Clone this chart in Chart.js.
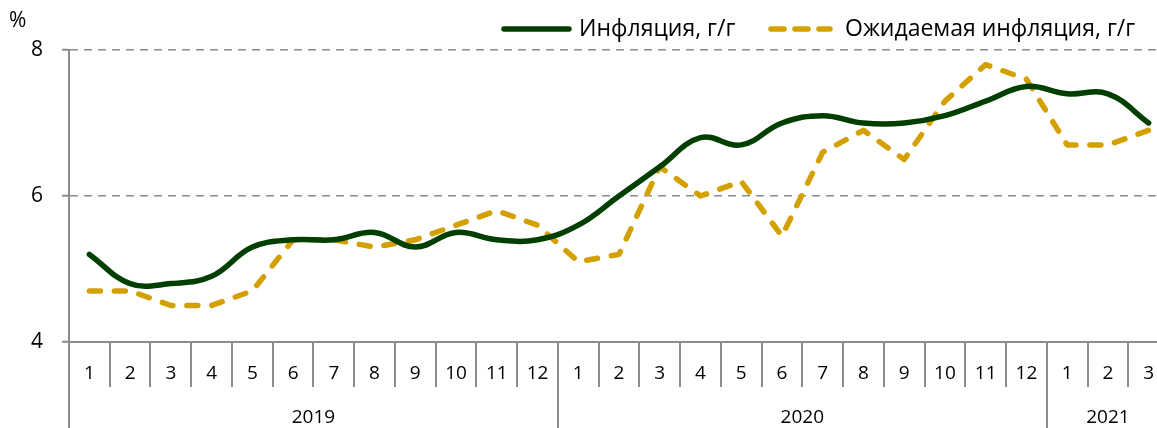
<!DOCTYPE html>
<html><head><meta charset="utf-8">
<script src="https://cdn.jsdelivr.net/npm/chart.js@4"></script>
<style>
html,body{margin:0;padding:0;overflow:hidden;background:#fff;width:1157px;height:428px}
#wrap{width:1157px;height:428px;overflow:hidden;position:relative}
canvas{display:block}
</style></head>
<body><div id="wrap"><canvas id="c" width="1169" height="428" style="width:1169px;height:428px"></canvas></div>
<script>
const months = ['1','2','3','4','5','6','7','8','9','10','11','12',
                '1','2','3','4','5','6','7','8','9','10','11','12',
                '1','2','3'];
const years = ['2019','2020','2021'];
const yearSpans = [12, 12, 3];
const inflation = [5.2, 4.8, 4.8, 4.9, 5.3, 5.4, 5.4, 5.5, 5.3, 5.5, 5.4, 5.4,
                   5.6, 6.0, 6.4, 6.8, 6.7, 7.0, 7.1, 7.0, 7.0, 7.1, 7.3, 7.5,
                   7.4, 7.4, 7.0];
const expected = [4.7, 4.7, 4.5, 4.5, 4.7, 5.4, 5.4, 5.3, 5.4, 5.6, 5.8, 5.6,
                  5.1, 5.2, 6.4, 6.0, 6.2, 5.45, 6.6, 6.9, 6.5, 7.3, 7.8, 7.6,
                  6.7, 6.7, 6.9];
const seriesNames = ['Инфляция, г/г', 'Ожидаемая инфляция, г/г'];
const unitLabel = '%';
const yMin = 4, yMax = 8, yStep = 2;

const GREEN = '#003f00';
const GOLD = '#d4a000';
const GRAY = '#8c8c8c';
const FONT = '"Open Sans", "DejaVu Sans", sans-serif';

const overlay = {
  id: 'overlay',
  afterDraw(chart) {
    const {ctx, chartArea} = chart;
    const x = chart.scales.x;
    const half = (x.getPixelForValue(1) - x.getPixelForValue(0)) / 2;
    ctx.save();
    // unit label
    ctx.fillStyle = '#000';
    ctx.font = '21px ' + FONT;
    ctx.textAlign = 'left';
    ctx.textBaseline = 'middle';
    ctx.fillText(unitLabel, 9, 21);
    // year separators + labels
    ctx.strokeStyle = GRAY;
    ctx.lineWidth = 2;
    let start = 0;
    const bounds = [0];
    yearSpans.forEach(n => { start += n; bounds.push(start); });
    bounds.forEach(b => {
      const px = Math.round(x.getPixelForValue(Math.min(b, months.length - 1)) + (b >= months.length ? half : -half));
      ctx.beginPath();
      ctx.moveTo(px, chartArea.bottom);
      ctx.lineTo(px, chart.height);
      ctx.stroke();
    });
    ctx.fillStyle = '#000';
    ctx.font = '19px ' + FONT;
    ctx.textAlign = 'center';
    start = 0;
    yearSpans.forEach((n, k) => {
      const cx = (x.getPixelForValue(start) + x.getPixelForValue(start + n - 1)) / 2;
      ctx.fillText(years[k], cx, 418);
      start += n;
    });
    // legend
    ctx.lineCap = 'round';
    ctx.lineWidth = 5.5;
    ctx.strokeStyle = GREEN;
    ctx.beginPath(); ctx.moveTo(504, 29); ctx.lineTo(569, 29); ctx.stroke();
    ctx.strokeStyle = GOLD;
    ctx.setLineDash([13, 11]);
    ctx.beginPath(); ctx.moveTo(771, 29); ctx.lineTo(830, 29); ctx.stroke();
    ctx.setLineDash([]);
    ctx.font = '23px ' + FONT;
    ctx.textAlign = 'left';
    ctx.fillStyle = '#000';
    ctx.fillText(seriesNames[0], 579, 29);
    ctx.fillText(seriesNames[1], 845, 29);
    ctx.restore();
  }
};

new Chart(document.getElementById('c'), {
  type: 'line',
  data: {
    labels: months,
    datasets: [
      {
        label: seriesNames[0], data: inflation,
        borderColor: GREEN, backgroundColor: GREEN,
        borderWidth: 5.5, tension: 0.4, pointRadius: 0,
        borderCapStyle: 'round', borderJoinStyle: 'round', fill: false, order: 1
      },
      {
        label: seriesNames[1], data: expected,
        borderColor: GOLD, backgroundColor: GOLD,
        borderWidth: 5.5, tension: 0, pointRadius: 0,
        borderDash: [11, 14], borderCapStyle: 'round', borderJoinStyle: 'round', fill: false, order: 2
      }
    ]
  },
  options: {
    responsive: false,
    devicePixelRatio: 1,
    animation: false,
    layout: { padding: { top: 50, left: 0, right: 0, bottom: 0 } },
    plugins: { legend: { display: false }, tooltip: { enabled: false } },
    scales: {
      x: {
        type: 'category',
        offset: true,
        afterFit: s => { s.height = 86; },
        grid: { offset: true, drawOnChartArea: false, drawTicks: true, tickLength: 45, color: GRAY, tickColor: GRAY, tickWidth: 2, lineWidth: 2 },
        border: { display: true, color: GRAY, width: 2 },
        ticks: { autoSkip: false, maxRotation: 0, padding: -25, color: '#000', font: { family: FONT, size: 19, lineHeight: 1.2 } }
      },
      y: {
        min: yMin, max: yMax,
        afterFit: s => { s.width = 69; },
        ticks: { stepSize: yStep, padding: 19, color: '#000', font: { family: FONT, size: 21 } },
        grid: {
          color: c => (c.tick && c.tick.value === yMin) ? 'rgba(0,0,0,0)' : GRAY,
          lineWidth: 1.5, tickLength: 7, tickColor: GRAY, tickWidth: 2, tickBorderDash: []
        },
        border: { display: true, color: GRAY, width: 2, dash: [8, 6] }
      }
    }
  },
  plugins: [overlay]
});
</script>
</body></html>
